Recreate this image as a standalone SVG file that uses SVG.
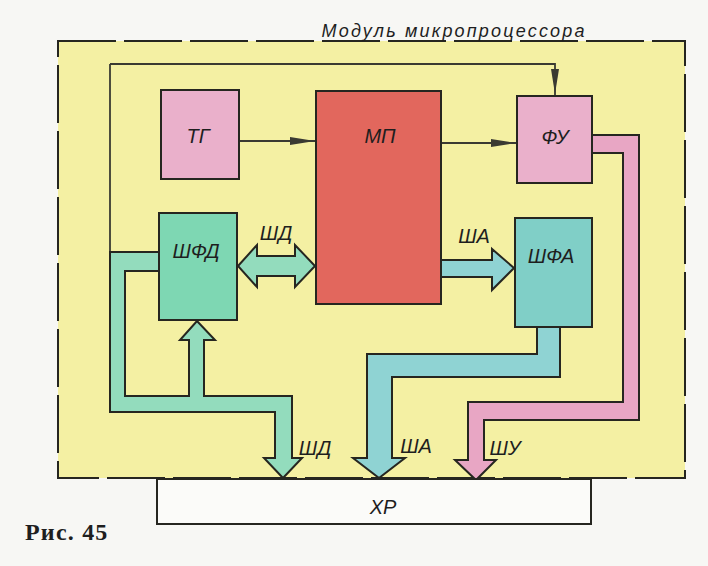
<svg xmlns="http://www.w3.org/2000/svg" width="708" height="566" viewBox="0 0 708 566">
<defs>
<marker id="ah" markerUnits="userSpaceOnUse" markerWidth="28" markerHeight="10" refX="27" refY="4.5" orient="auto">
<path d="M0,0.5 L25,4.5 L0,8.5 Z" fill="#3a3a32"/>
</marker>
<style>
.lbl{font-family:"Liberation Sans","DejaVu Sans",sans-serif;font-style:italic;font-size:20px;fill:#1e1e1e;text-anchor:middle}
.box{stroke:#262620;stroke-width:2}
.bus{stroke:#262620;stroke-width:2;stroke-linejoin:miter}
.thin{stroke:#3a3a32;stroke-width:1.8;fill:none}
</style>
</defs>
<rect width="708" height="566" fill="#f7f7f4"/>
<!-- module frame -->
<g id="module">
<rect x="58" y="41" width="627" height="437" fill="#f4f0a3" stroke="#262620" stroke-width="2" stroke-dasharray="58 8"/>
<text x="453" y="37" font-family="Liberation Sans, DejaVu Sans, sans-serif" font-style="italic" font-size="18" fill="#1e1e1e" text-anchor="middle" textLength="263" lengthAdjust="spacing">Модуль микропроцессора</text>
</g>
<!-- connectors -->
<g id="connectors">
<path class="thin" d="M110,64 L555,64 L555,96" marker-end="url(#ah)"/>
<line class="thin" x1="110" y1="64" x2="110" y2="253"/>
<line class="thin" x1="239" y1="141" x2="317" y2="141" marker-end="url(#ah)"/>
<line class="thin" x1="441" y1="143" x2="518" y2="143" marker-end="url(#ah)"/>
<polygon class="bus" fill="#93dcbd" points="159,252 110,252 110,412 275,412 275,458 264,458 283,478 302,458 292,458 292,396 204,396 204,340 215,340 197,321 180,340 189,340 189,396 125,396 125,271 159,271"/>
<polygon class="bus" fill="#93dcbd" points="238,266 257,245 257,256 295,256 295,245 315,266 295,287 295,276 257,276 257,287"/>
<polygon class="bus" fill="#8fd3d3" points="441,260 492,260 492,249 514,268 492,290 492,277 441,277"/>
<polygon class="bus" fill="#8fd3d3" points="537,327 537,354 367,354 367,458 353,458 379,478 405,458 392,458 392,377 560,377 560,327"/>
<polygon class="bus" fill="#e8a6c4" points="592,135 639,135 639,420 484,420 484,460 496,460 476,480 455,460 468,460 468,402 623,402 623,153 592,153"/>
<text class="lbl" x="276" y="240">ШД</text>
<text class="lbl" x="474" y="243">ША</text>
<text class="lbl" x="315" y="455">ШД</text>
<text class="lbl" x="416" y="453">ША</text>
<text class="lbl" x="505" y="455">ШУ</text>
</g>
<g id="tg">
<rect class="box" x="161" y="90" width="78" height="89" fill="#eab0cb"/>
<text class="lbl" x="198" y="143">ТГ</text>
</g>
<g id="mp">
<rect class="box" x="316" y="91" width="125" height="213" fill="#e2675d"/>
<text class="lbl" x="380" y="143">МП</text>
</g>
<g id="fu">
<rect class="box" x="517" y="96" width="75" height="87" fill="#eab0cb"/>
<text class="lbl" x="555" y="144">ФУ</text>
</g>
<g id="shfd">
<rect class="box" x="159" y="213" width="78" height="107" fill="#7ed7b3"/>
<text class="lbl" x="196" y="258" font-size="21">ШФД</text>
</g>
<g id="shfa">
<rect class="box" x="515" y="218" width="77" height="109" fill="#80cfc7"/>
<text class="lbl" x="551" y="263" font-size="21">ШФА</text>
</g>
<g id="xr">
<rect class="box" x="157" y="479" width="434" height="45" fill="#fbfbf9"/>
<text class="lbl" x="383" y="514">ХР</text>
</g>
<text x="25" y="540" font-family="Liberation Serif, DejaVu Serif, serif" font-weight="bold" font-size="24" fill="#1e1e1e" letter-spacing="1.2">Рис. 45</text>
</svg>
